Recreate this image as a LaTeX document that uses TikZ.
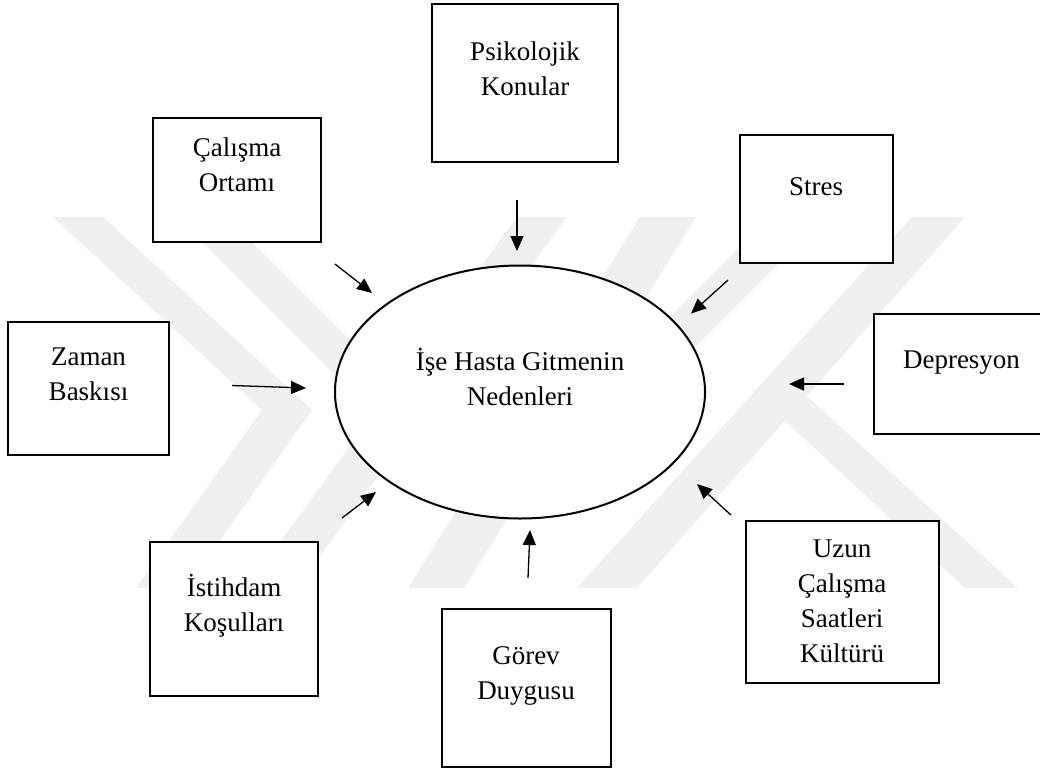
\documentclass[tikz,border=0pt]{standalone}
\usepackage{fontspec}
\setmainfont{Liberation Serif}
\usetikzlibrary{arrows.meta,shapes.geometric}

\definecolor{wmgray}{RGB}{239,239,239}

\begin{document}
\begin{tikzpicture}[x=1pt,y=-1pt,
  box/.style={draw=black, line width=2.3pt, fill=white, inner sep=0pt, rectangle},
  oval/.style={draw=black, line width=2pt, fill=white, inner sep=0pt, ellipse},
  lbl/.style={font=\fontsize{27}{35}\selectfont, align=center, inner sep=0pt, anchor=north},
  arr/.style={line width=1.3pt, -{Triangle[length=15pt,width=13pt]}}]

\clip (0,0) rectangle (1040,769);
\fill[white] (0,0) rectangle (1040,769);

% background emblem bands
\fill[wmgray] (53,217) -- (103,217) -- (312,410) -- (186,588) -- (136,588) -- (262,410) -- cycle;
\fill[wmgray] (177,217) -- (227,217) -- (430,420) -- (380,420) -- cycle;
\fill[wmgray] (517,217) -- (567,217) -- (317,560) -- (267,560) -- cycle;
\fill[wmgray] (640,217) -- (696,217) -- (464,588) -- (408,588) -- cycle;
\fill[wmgray] (770,217) -- (825,217) -- (622,420) -- (567,420) -- cycle;
\fill[wmgray] (912,217) -- (965,217) -- (637,588) -- (577,588) -- cycle;
\fill[wmgray] (752,390) -- (800,390) -- (1018,588) -- (965,588) -- cycle;

% central ellipse
\node[oval, minimum width=370pt, minimum height=253pt] (center) at (520,392) {};
\node[lbl] (centerT) at (520,345.5) {\strut İşe Hasta Gitmenin\\Nedenleri};

% surrounding boxes
\node[box, minimum width=186pt, minimum height=158pt] (psi) at (525,83) {};
\node[lbl] (psiT) at (525,35.5) {\strut Psikolojik\\Konular};

\node[box, minimum width=168pt, minimum height=124pt] (cal) at (237,180) {};
\node[lbl] (calT) at (237,132) {\strut Çalışma\\Ortamı};

\node[box, minimum width=153pt, minimum height=128pt] (str) at (816.5,199) {};
\node[lbl] (strT) at (816,170.5) {\strut Stres};

\node[box, minimum width=161pt, minimum height=133pt] (zam) at (88.5,388.5) {};
\node[lbl] (zamT) at (88.5,340.5) {\strut Zaman\\Baskısı};

\node[box, minimum width=190pt, minimum height=120pt] (dep) at (969,374) {};
\node[lbl] (depT) at (961.5,344) {\strut Depresyon};

\node[box, minimum width=168pt, minimum height=154pt] (ist) at (234,619) {};
\node[lbl] (istT) at (234,571.5) {\strut İstihdam\\Koşulları};

\node[box, minimum width=169pt, minimum height=158pt] (gor) at (526.5,688) {};
\node[lbl] (gorT) at (526,640) {\strut Görev\\Duygusu};

\node[box, minimum width=193pt, minimum height=162pt] (uzun) at (842.5,602) {};
\node[lbl] (uzunT) at (842,532.5) {\strut Uzun\\Çalışma\\Saatleri\\Kültürü};

% arrow end points
\coordinate (psiS) at (517,200);   \coordinate (psiE) at (517,251);
\coordinate (calS) at (335,264);   \coordinate (calE) at (372,293);
\coordinate (strS) at (728,280);   \coordinate (strE) at (691,313.5);
\coordinate (zamS) at (232,385.5); \coordinate (zamE) at (306,388);
\coordinate (depS) at (844,384);   \coordinate (depE) at (789,384);
\coordinate (istS) at (342,518);   \coordinate (istE) at (376,492);
\coordinate (gorS) at (528,578);   \coordinate (gorE) at (530,530);
\coordinate (uzunS) at (731,515);  \coordinate (uzunE) at (697,484);

% arrows
\draw[arr] (psiS) -- (psiE);
\draw[arr] (calS) -- (calE);
\draw[arr] (strS) -- (strE);
\draw[arr] (zamS) -- (zamE);
\draw[arr] (depS) -- (depE);
\draw[arr] (istS) -- (istE);
\draw[arr] (gorS) -- (gorE);
\draw[arr] (uzunS) -- (uzunE);

\end{tikzpicture}
\end{document}
